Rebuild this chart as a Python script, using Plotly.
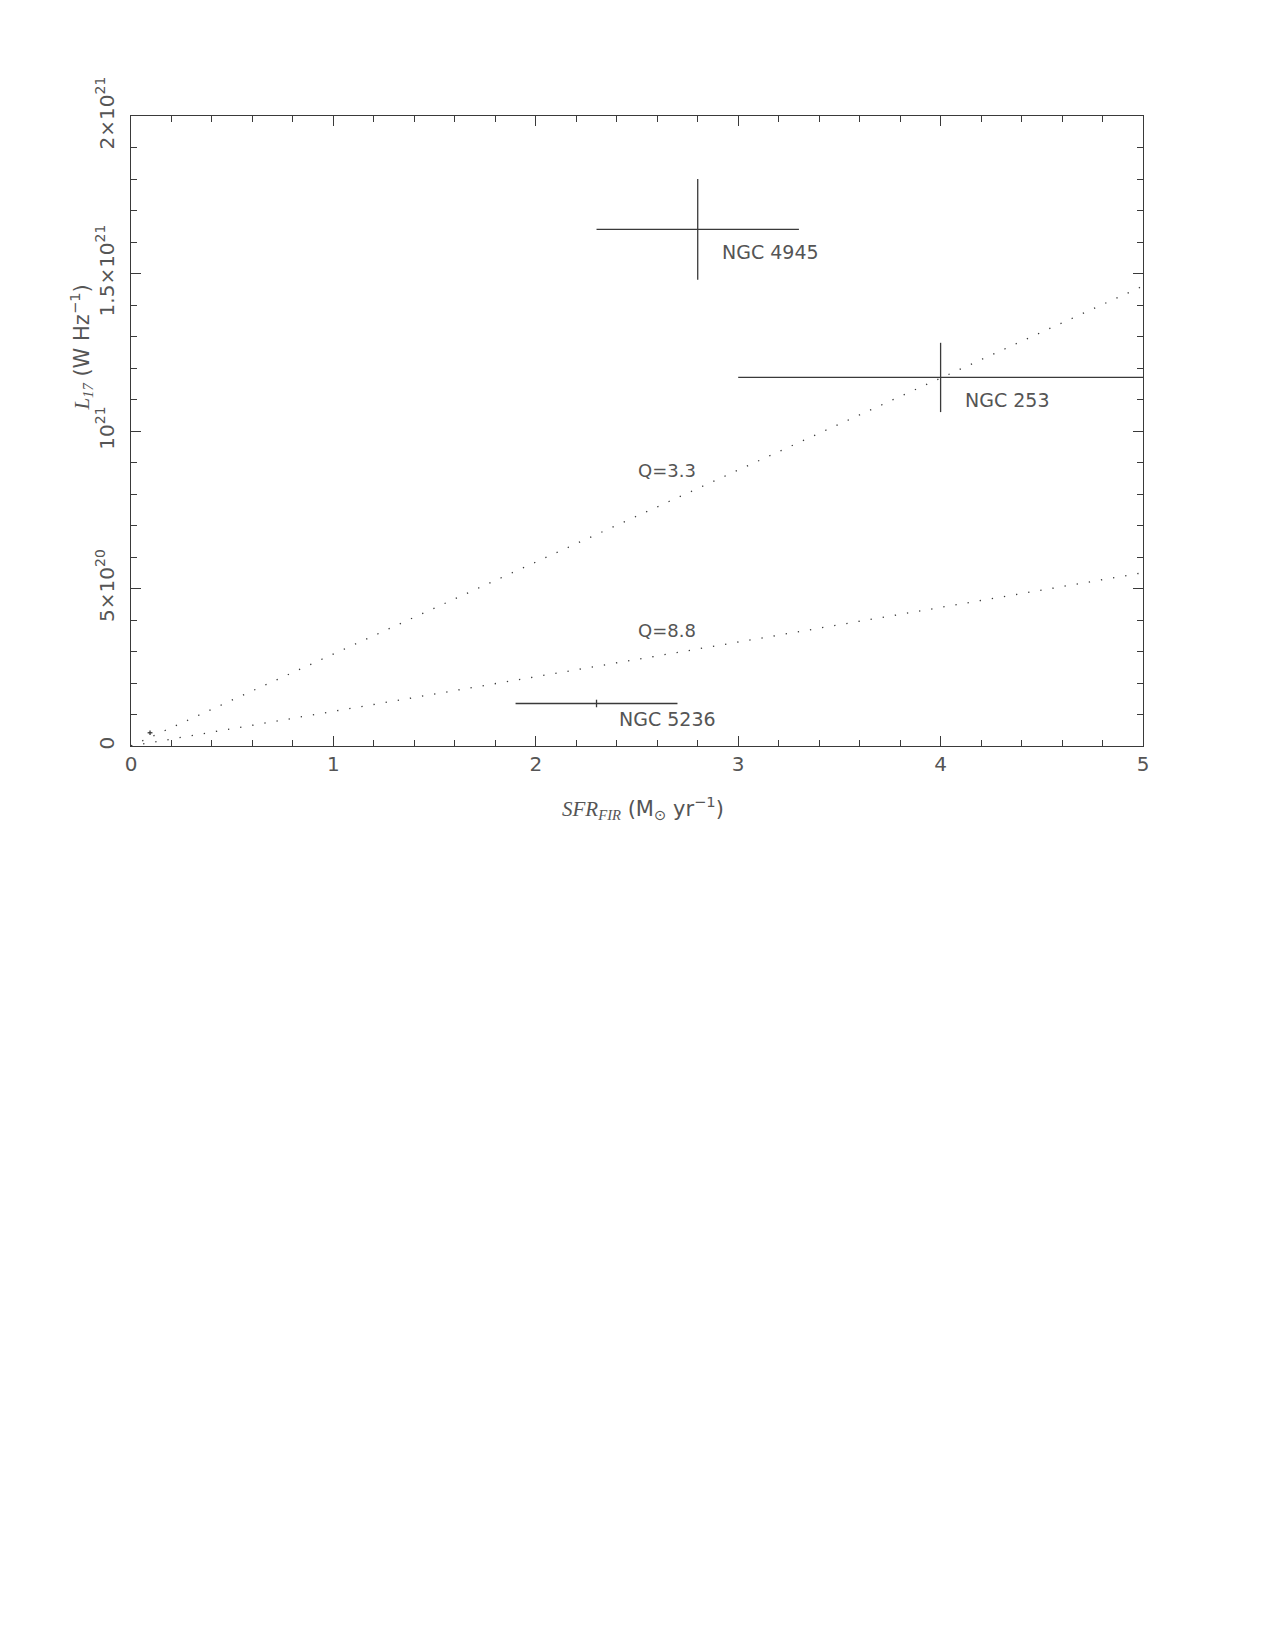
import plotly.graph_objects as go

# galaxies with error bars (SFR in Msun/yr, L17 in W/Hz)
names = ["NGC 4945", "NGC 253", "NGC 5236"]
sfr = [2.8, 4.0, 2.3]
sfr_err = [0.5, 1.0, 0.4]
l17 = [1.64e21, 1.17e21, 0.135e21]
l17_err = [0.16e21, 0.11e21, 0.012e21]
label_x = [2.91, 4.11, 2.40]
label_y = [1.567e21, 1.098e21, 0.087e21]

# small unlabelled point near the origin
small_x = [0.094]
small_err_x = [0.012]
small_y = [0.042e21]
small_err_y = [0.007e21]

# Q lines (endpoints)
line_x = [0, 5]
q33_y = [0, 1.46e21]
q88_y = [0, 0.55e21]
q_labels = ["Q=3.3", "Q=8.8"]
q_label_x = [2.65, 2.65]
q_label_y = [0.876e21, 0.368e21]

ink = "#3a3a3a"
txt = "#555555"
font_sans = "DejaVu Sans, Liberation Sans, sans-serif"

fig = go.Figure()

for qy in [q33_y, q88_y]:
    fig.add_trace(go.Scatter(x=line_x, y=qy, mode='lines',
                             line=dict(color=ink, width=1.3, dash="1.3px,11px"),
                             showlegend=False, hoverinfo='skip'))

fig.add_trace(go.Scatter(x=sfr, y=l17, mode='markers',
                         marker=dict(size=1, color=ink),
                         error_x=dict(type='data', array=sfr_err, width=0, thickness=1.3, color=ink),
                         error_y=dict(type='data', array=l17_err, width=0, thickness=1.3, color=ink),
                         showlegend=False))

fig.add_trace(go.Scatter(x=small_x, y=small_y, mode='markers',
                         marker=dict(size=1, color=ink),
                         error_x=dict(type='data', array=small_err_x, width=0, thickness=1.3, color=ink),
                         error_y=dict(type='data', array=small_err_y, width=0, thickness=1.3, color=ink),
                         showlegend=False))

for i in range(len(names)):
    fig.add_annotation(x=label_x[i], y=label_y[i], text=names[i], showarrow=False,
                       xanchor='left', yanchor='middle',
                       font=dict(family=font_sans, size=19, color=txt))

for i in range(len(q_labels)):
    fig.add_annotation(x=q_label_x[i], y=q_label_y[i], text=q_labels[i], showarrow=False,
                       xanchor='center', yanchor='middle',
                       font=dict(family=font_sans, size=18, color=txt))

# axis titles
fig.add_annotation(xref='paper', yref='paper', x=0.506, y=-0.099,
                   text='<span style="font-family:Liberation Serif"><i>SFR</i><sub><i>FIR</i></sub></span> (M<sub>⊙</sub> yr<sup>−1</sup>)',
                   showarrow=False, xanchor='center', yanchor='middle',
                   font=dict(family=font_sans, size=21, color=txt))
fig.add_annotation(xref='paper', yref='paper', x=-0.049, y=0.633, textangle=-90,
                   text='<span style="font-family:Liberation Serif"><i>L</i><sub><i>17</i></sub></span> (W Hz<sup>−1</sup>)',
                   showarrow=False, xanchor='center', yanchor='middle',
                   font=dict(family=font_sans, size=21, color=txt))

axis_common = dict(showgrid=False, zeroline=False, showline=True, linecolor=ink, linewidth=1.3,
                   mirror='allticks', ticks='inside', ticklen=10, tickwidth=1.2, tickcolor=ink,
                   tickfont=dict(family=font_sans, size=20, color=txt))

fig.update_xaxes(range=[0, 5], tickmode='array', tickvals=[0, 1, 2, 3, 4, 5],
                 ticktext=['0', '1', '2', '3', '4', '5'],
                 minor=dict(ticks='inside', ticklen=6, dtick=0.2, tickcolor=ink, tickwidth=1.2),
                 **axis_common)
fig.update_yaxes(range=[0, 2e21], tickmode='array', tickvals=[0, 5e20, 1e21, 1.5e21, 2e21],
                 ticktext=['0', '5×10<sup>20</sup>', '10<sup>21</sup>', '1.5×10<sup>21</sup>', '2×10<sup>21</sup>'],
                 tickangle=-90, ticklabelstandoff=8,
                 minor=dict(ticks='inside', ticklen=6, dtick=1e20, tickcolor=ink, tickwidth=1.2),
                 **axis_common)

fig.update_layout(width=1275, height=1650, plot_bgcolor='white', paper_bgcolor='white',
                  margin=dict(l=123, r=140, t=108, b=912, autoexpand=False),
                  showlegend=False)

fig.write_html("out.html")
